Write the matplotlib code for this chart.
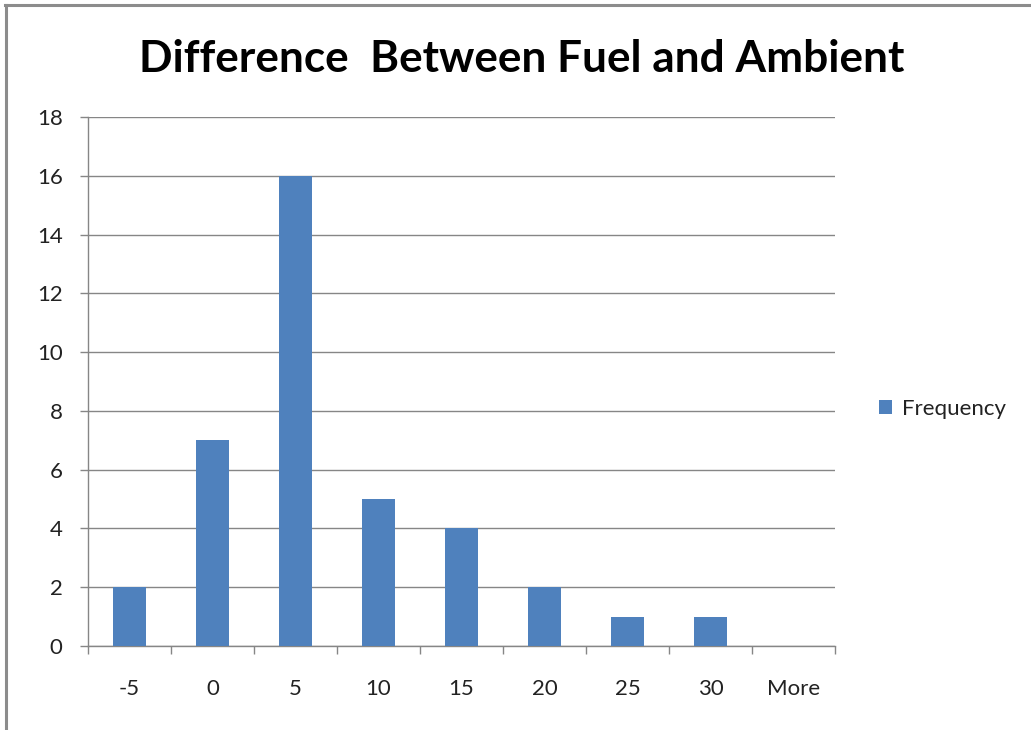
import matplotlib
matplotlib.use("Agg")
import matplotlib.pyplot as plt
from matplotlib.lines import Line2D

# Histogram of temperature differences (fuel minus ambient)
bins = ["-5", "0", "5", "10", "15", "20", "25", "30", "More"]
frequency = [2, 7, 16, 5, 4, 2, 1, 1, 0]
y_ticks = [0, 2, 4, 6, 8, 10, 12, 14, 16, 18]

title = "Difference  Between Fuel and Ambient"
series_name = "Frequency"

bar_color = "#4F81BD"
grid_color = "#868686"
text_color = "#222222"

plt.rcParams["font.family"] = ["Lato", "DejaVu Sans"]

W, H = 1031, 730
fig = plt.figure(figsize=(W / 100, H / 100), dpi=100)
fig.patch.set_facecolor("white")

# outer chart frame (top and left edges)
fig.add_artist(Line2D([5 / W, 1], [1 - 5 / H, 1 - 5 / H], color="#8c8c8c", lw=2.2,
                      transform=fig.transFigure))
fig.add_artist(Line2D([6 / W, 6 / W], [0, 1 - 5 / H], color="#8c8c8c", lw=2.2,
                      transform=fig.transFigure))

left, right, top, bottom = 88, 835, 117, 646
ax = fig.add_axes([left / W, 1 - bottom / H, (right - left) / W, (bottom - top) / H])

x = list(range(len(bins)))
ax.bar(x, frequency, width=0.4, color=bar_color, zorder=3, label=series_name)

ax.set_xlim(-0.5, len(bins) - 0.5)
ax.set_ylim(0, 18)

ax.set_yticks(y_ticks)
ax.set_yticklabels([str(v) for v in y_ticks])
ax.yaxis.grid(True, color=grid_color, lw=1.0, zorder=0)
ax.tick_params(axis="y", direction="out", length=5.8, width=1.0, color=grid_color,
               pad=12.5, labelsize=16, labelcolor=text_color)

# category boundaries carry the tick marks; labels sit at the category centres
ax.set_xticks([i - 0.5 for i in range(len(bins) + 1)])
ax.set_xticklabels([])
ax.set_xticks(x, minor=True)
ax.set_xticklabels(bins, minor=True)
ax.tick_params(axis="x", which="major", direction="out", length=5.8, width=1.0,
               color=grid_color)
ax.tick_params(axis="x", which="minor", length=0, pad=23.5, labelsize=16,
               labelcolor=text_color)

for side in ("top", "right"):
    ax.spines[side].set_visible(False)
for side in ("left", "bottom"):
    ax.spines[side].set_color(grid_color)
    ax.spines[side].set_linewidth(1.0)

fig.text(522 / W, 1 - 59 / H, title, ha="center", va="center", fontsize=31.8,
         fontweight="bold", color="black")

ax.legend(loc="center left", bbox_to_anchor=(879 / W, 1 - 409 / H),
          bbox_transform=fig.transFigure, frameon=False, fontsize=16,
          handlelength=0.6, handleheight=0.6, handletextpad=0.45,
          labelcolor=text_color, borderaxespad=0, borderpad=0)

fig.savefig("out.png", dpi=100, facecolor="white")
